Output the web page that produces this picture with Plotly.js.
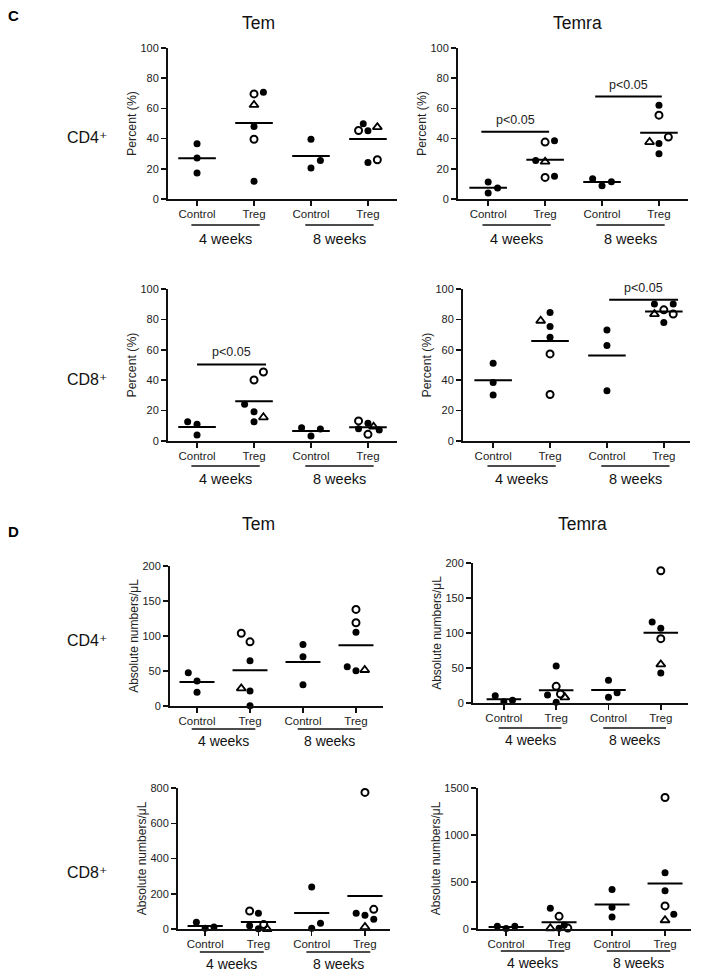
<!DOCTYPE html>
<html><head><meta charset="utf-8">
<script src="https://cdn.plot.ly/plotly-3.0.1.min.js"></script>
<style>html,body{margin:0;padding:0;background:#fff}</style>
</head><body><div id="chart" style="width:701px;height:978px"></div>
<script>
// ---------------- DATA ----------------
const groupLabels = ['Control','Treg','Control','Treg'];
const periodLabels = ['4 weeks','8 weeks'];
const columnTitles = ['Tem','Temra'];
const rowLabels = ['CD4⁺','CD8⁺'];
const sectionLabels = ['C','D'];
const yTitlePct = 'Percent (%)';
const yTitleAbs = 'Absolute numbers/μL';
const sigText = 'p<0.05';

// symbols: f = filled circle, o = open circle, t = open triangle ; slot = side-by-side column of a point
const temCD4pct_vals = [[36.6,27.1,17.2],[69.6,70.7,62.3,48,39.6,11.7],[39.6,20.5,25.5],[49.8,45.4,45.2,47.6,24.2,26]];
const temCD4pct_sym  = [['f','f','f'],['o','f','t','f','o','f'],['f','f','f'],['f','o','f','t','f','o']];
const temCD4pct_slot = [[0,0,0],[0,1,0,0,0,0],[0,0,1],[-0.5,-1,0,1,0,1]];

const temraCD4pct_vals = [[11.2,4,7.3],[37.7,38.5,25.5,24.7,14.3,15],[13.4,8.8,11.5],[62.1,55.5,37.7,36.8,41,30]];
const temraCD4pct_sym  = [['f','f','f'],['o','f','f','t','o','f'],['f','f','f'],['f','o','t','f','o','f']];
const temraCD4pct_slot = [[0,0,1],[0,1,-1,0,0,1],[-1,0,1],[0,0,-1,0,1,0]];

const temCD8pct_vals = [[12.6,11,4],[40.1,45.4,24.2,19.2,15.6,12.6],[8.7,3.3,7.9],[13.2,11.6,8.1,9.4,7.2,4.4]];
const temCD8pct_sym  = [['f','f','f'],['o','o','f','f','t','f'],['f','f','f'],['o','f','f','t','f','o']];
const temCD8pct_slot = [[-1,0,0],[0,1,-1,0,1,0],[-1,0,1],[-1,0,-1,0.6,1.2,0]];

const temraCD8pct_vals = [[51.1,38.5,30.2],[84.6,79.1,75.3,68.3,57.3,30.6],[73.1,62.8,33],[90.1,90.1,83.5,86.3,83.5,78]];
const temraCD8pct_sym  = [['f','f','f'],['f','t','f','f','o','o'],['f','f','f'],['f','f','t','o','o','f']];
const temraCD8pct_slot = [[0,0,0],[0,-1,0,0,0,0],[0,0,0],[-1,1,-1,0,1,0]];

const temCD4abs_vals = [[47.5,35.6,19.5],[104,91.7,64.6,25.2,21.4,0.5],[87.9,70.3,30.4],[138,119,105.3,56,50.5,51.4]];
const temCD4abs_sym  = [['f','f','f'],['o','o','f','t','f','f'],['f','f','f'],['o','o','f','f','f','t']];
const temCD4abs_slot = [[-1,0,0],[-1,0,0,-1,0,0],[0,0,0],[0,0,0,-1,0,1]];

const temraCD4abs_vals = [[10.5,1.9,3.8],[52.9,23.8,11.4,12.9,8.1,1],[32.4,14.8,8.1],[189,115.7,106.7,91.9,55.2,42.9]];
const temraCD4abs_sym  = [['f','f','f'],['f','o','f','o','t','f'],['f','f','f'],['o','f','f','o','t','f']];
const temraCD4abs_slot = [[-1,0,1],[0,0,-1,0.5,1,0],[0,1,0],[0,-1,0,0,0,0]];

const temCD8abs_vals = [[38,4,11],[102,89,19,25,2,0],[238,32,4],[775,89,77.6,111.7,55,11]];
const temCD8abs_sym  = [['f','f','f'],['o','f','f','o','f','t'],['f','f','f'],['o','f','f','o','f','t']];
const temCD8abs_slot = [[-1,0,1],[-1,0,-1,0.6,0,1],[0,1,0],[0,-1,0,1,1,0]];

const temraCD8abs_vals = [[30,5,28],[220,135,42,8,8,10],[420,231,128],[1399,598,406,246,157,93]];
const temraCD8abs_sym  = [['f','f','f'],['f','o','f','t','f','o'],['f','f','f'],['o','f','f','o','f','t']];
const temraCD8abs_slot = [[-1,0,1],[-1,0,0.6,-1,0,1],[0,0,0],[0,0,0,0,1,0]];

// significance bars: panel index, period index (0 = 4 weeks, 1 = 8 weeks), bar height
const sig_panel  = [1,1,2,3,5];
const sig_period = [0,1,0,1,1];
const sig_y      = [44.5,67.8,50.4,93,204.3];

// ---------------- LAYOUT CONFIG ----------------
const W = 701, H = 978;
const fx = x => x / W;
const fy = y => 1 - y / H;
const FONT = 'Liberation Sans, Arial, Helvetica, DejaVu Sans, sans-serif';
const INK = '#111';

const panelData = [
  [temCD4pct_vals, temCD4pct_sym, temCD4pct_slot],
  [temraCD4pct_vals, temraCD4pct_sym, temraCD4pct_slot],
  [temCD8pct_vals, temCD8pct_sym, temCD8pct_slot],
  [temraCD8pct_vals, temraCD8pct_sym, temraCD8pct_slot],
  [temCD4abs_vals, temCD4abs_sym, temCD4abs_slot],
  [temraCD4abs_vals, temraCD4abs_sym, temraCD4abs_slot],
  [temCD8abs_vals, temCD8abs_sym, temCD8abs_slot],
  [temraCD8abs_vals, temraCD8abs_sym, temraCD8abs_slot]
];

// pixel boxes [x0,x1,yTop,yBottom], x ranges, y ranges, tick step, title standoff, group line y, period label y
const panelCfg = [
  {box:[168,397,48,199],  xr:[-0.51,3.51], yr:[0,100],  dt:20,  yt:yTitlePct, so:1, gl:225, gy:239},
  {box:[458,688,48,199],  xr:[-0.53,3.51], yr:[0,100],  dt:20,  yt:yTitlePct, so:1, gl:225, gy:239},
  {box:[168,397,289,441], xr:[-0.51,3.51], yr:[0,100],  dt:20,  yt:yTitlePct, so:1, gl:466, gy:479},
  {box:[463,690,289,441], xr:[-0.53,3.46], yr:[0,100],  dt:20,  yt:yTitlePct, so:1, gl:466, gy:479},
  {box:[170,383,566,706], xr:[-0.51,3.51], yr:[0,200],  dt:50,  yt:yTitleAbs, so:1, gl:729, gy:741},
  {box:[473,688,563,703], xr:[-0.59,3.52], yr:[0,200],  dt:50,  yt:yTitleAbs, so:1, gl:728, gy:740},
  {box:[178,390,788,929], xr:[-0.51,3.47], yr:[0,800],  dt:200, yt:yTitleAbs, so:1, gl:952, gy:964},
  {box:[478,691,788,929], xr:[-0.53,3.49], yr:[0,1500], dt:500, yt:yTitleAbs, so:1, gl:951, gy:963}
];
const sigShift = [[-0.12,0.07],[-0.12,0.05],[0,0.21],[0.04,0.25],[-0.15,0.06]];

const SLOT = 0.165, HALF = 0.33;
const markerStyle = {
  f: {symbol:'circle', size:7, color:'#000'},
  o: {symbol:'circle-open', size:7, color:'#000', line:{width:2, color:'#000'}},
  t: {symbol:'triangle-up-open', size:8, color:'#000', line:{width:1.8, color:'#000'}}
};

const traces = [];
const shapes = [];
const annotations = [];
const layout = {
  width: W, height: H,
  margin: {l:0, r:0, t:0, b:0},
  paper_bgcolor: '#fff', plot_bgcolor: '#fff',
  showlegend: false,
  font: {family: FONT, color: INK},
  shapes, annotations
};

panelCfg.forEach((cfg, i) => {
  const n = i === 0 ? '' : String(i + 1);
  const xa = 'x' + n, ya = 'y' + n;
  const [x0, x1, yT, yB] = cfg.box;
  layout['xaxis' + n] = {
    domain: [fx(x0), fx(x1)], range: cfg.xr, anchor: ya,
    tickmode: 'array', tickvals: [0,1,2,3], ticktext: groupLabels,
    ticks: 'outside', ticklen: 5, tickwidth: 1.5, tickcolor: INK,
    ticklabelstandoff: -2,
    showline: true, linewidth: 2, linecolor: INK,
    showgrid: false, zeroline: false, fixedrange: true, automargin: false,
    tickfont: {size: 11.5, family: FONT, color: '#222'}
  };
  layout['yaxis' + n] = {
    domain: [fy(yB), fy(yT)], range: cfg.yr, anchor: xa,
    tick0: 0, dtick: cfg.dt,
    ticks: 'outside', ticklen: 5, tickwidth: 1.5, tickcolor: INK,
    showline: true, linewidth: 2, linecolor: INK,
    showgrid: false, zeroline: false, fixedrange: true, automargin: false,
    tickfont: {size: 11, family: FONT, color: '#222'},
    title: {text: cfg.yt, standoff: cfg.so, font: {size: i < 4 ? 12.3 : 12, family: FONT, color: '#222'}}
  };

  const [vals, syms, slots] = panelData[i];
  // points grouped by symbol
  ['f','o','t'].forEach(s => {
    const xs = [], ys = [];
    vals.forEach((g, gi) => g.forEach((v, k) => {
      if (syms[gi][k] === s) { xs.push(gi + slots[gi][k] * SLOT); ys.push(v); }
    }));
    if (xs.length) traces.push({type:'scatter', mode:'markers', x: xs, y: ys, xaxis: xa, yaxis: ya,
      marker: markerStyle[s], cliponaxis: false, hoverinfo: 'skip'});
  });
  // mean lines
  const mx = [], my = [];
  vals.forEach((g, gi) => {
    const m = g.reduce((a, b) => a + b, 0) / g.length;
    mx.push(gi - HALF, gi + HALF, null); my.push(m, m, null);
  });
  traces.push({type:'scatter', mode:'lines', x: mx, y: my, xaxis: xa, yaxis: ya,
    line: {color: '#000', width: 2}, cliponaxis: false, hoverinfo: 'skip'});

  // period group lines and labels
  periodLabels.forEach((lab, p) => {
    const c = 2 * p, t = 2 * p + 1;
    shapes.push({type:'line', xref: xa, yref:'paper', x0: c - 0.1, x1: t + 0.1,
      y0: fy(cfg.gl), y1: fy(cfg.gl), line:{color: INK, width: 1.5}});
    annotations.push({xref: xa, yref:'paper', x: (c + t) / 2, y: fy(cfg.gy), text: lab,
      showarrow:false, xanchor:'center', yanchor:'middle', font:{size: i < 4 ? 14.5 : 14, family: FONT, color:'#111'}});
  });
});

// significance bars
sig_panel.forEach((pi, k) => {
  const n = pi === 0 ? '' : String(pi + 1);
  const xa = 'x' + n, ya = 'y' + n;
  const c = 2 * sig_period[k], t = c + 1;
  const xs0 = c + sigShift[k][0], xs1 = t + sigShift[k][1];
  traces.push({type:'scatter', mode:'lines', x:[xs0, xs1], y:[sig_y[k], sig_y[k]], xaxis: xa, yaxis: ya,
    line:{color:'#000', width: 2}, cliponaxis:false, hoverinfo:'skip'});
  annotations.push({xref: xa, yref: ya, x: (xs0 + xs1) / 2, y: sig_y[k], yshift: 12, text: sigText,
    showarrow:false, xanchor:'center', yanchor:'middle', font:{size: 12.5, family: FONT, color:'#222'}});
});

// column titles, row labels, section labels
const titlePos = [[258,23],[577,23],[258,524],[582,524]];
titlePos.forEach((p, k) => annotations.push({xref:'paper', yref:'paper', x: fx(p[0]), y: fy(p[1]),
  text: columnTitles[k % 2], showarrow:false, xanchor:'center', yanchor:'middle',
  font:{size: 17.5, family: FONT, color:'#111'}}));
const rowPos = [[87,138],[87,379],[87,640],[87,872]];
rowPos.forEach((p, k) => annotations.push({xref:'paper', yref:'paper', x: fx(p[0]), y: fy(p[1]),
  text: rowLabels[k % 2], showarrow:false, xanchor:'center', yanchor:'middle',
  font:{size: 16, family: FONT, color:'#111'}}));
const secPos = [[13,15],[13,531]];
secPos.forEach((p, k) => annotations.push({xref:'paper', yref:'paper', x: fx(p[0]), y: fy(p[1]),
  text: '<b>' + sectionLabels[k] + '</b>', showarrow:false, xanchor:'center', yanchor:'middle',
  font:{size: 15, family: FONT, color:'#000'}}));

Plotly.newPlot('chart', traces, layout, {staticPlot: true, displayModeBar: false});
</script>
</body></html>
